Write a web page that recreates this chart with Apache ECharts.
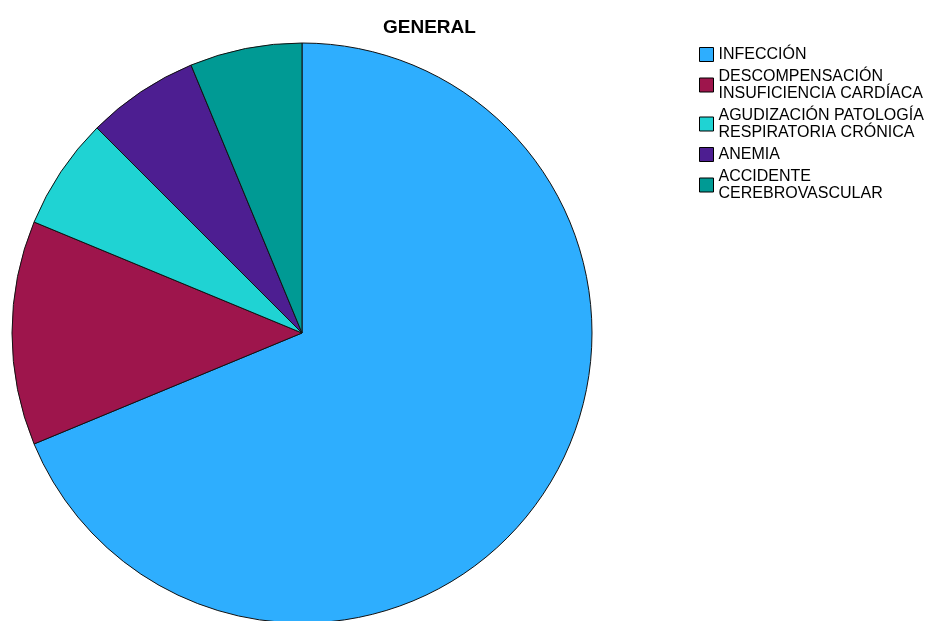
<!DOCTYPE html>
<html><head><meta charset="utf-8">
<script src="https://cdn.jsdelivr.net/npm/echarts@6/dist/echarts.min.js"></script>
<style>html,body{margin:0;padding:0;background:#fff}#c{width:932px;height:621px}</style>
</head><body><div id="c"></div>
<script>
const categories = ['INFECCIÓN', 'DESCOMPENSACIÓN\nINSUFICIENCIA CARDÍACA', 'AGUDIZACIÓN PATOLOGÍA\nRESPIRATORIA CRÓNICA', 'ANEMIA', 'ACCIDENTE\nCEREBROVASCULAR'];
const values = [11, 2, 1, 1, 1];
const colors = ['#2eaefe', '#9e154c', '#1fd3d3', '#4d1e91', '#009a94'];
const title = 'GENERAL';

const chart = echarts.init(document.getElementById('c'), null, {renderer: 'canvas'});
chart.setOption({
  animation: false,
  title: {text: title, left: 383, top: 18, padding: 0,
    textStyle: {fontFamily: 'Liberation Sans, Arial, sans-serif', fontSize: 19, fontWeight: 'bold', color: '#000'}},
  legend: {
    orient: 'vertical', left: 694, top: 41, itemWidth: 14, itemHeight: 14, itemGap: 5,
    icon: 'rect',
    itemStyle: {borderColor: '#000', borderWidth: 1},
    textStyle: {fontFamily: 'Liberation Sans, Arial, sans-serif', fontSize: 16, lineHeight: 17, color: '#000', padding: [0,0,0,0]},
    data: categories
  },
  series: [{
    type: 'pie', center: [302, 333], radius: 290, startAngle: 90, clockwise: true,
    label: {show: false}, labelLine: {show: false}, emphasis: {disabled: true},
    itemStyle: {borderColor: '#111', borderWidth: 1},
    data: categories.map((c, i) => ({name: c, value: values[i], itemStyle: {color: colors[i]}}))
  }]
});
</script></body></html>
